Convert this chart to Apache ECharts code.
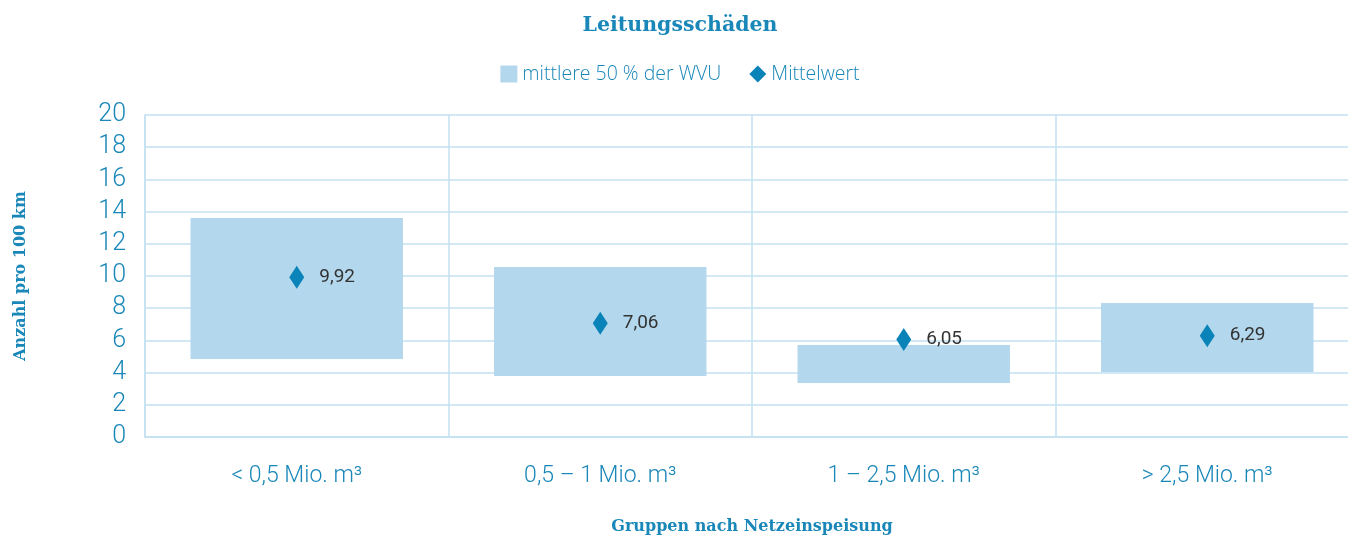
<!DOCTYPE html>
<html>
<head>
<meta charset="utf-8">
<script src="https://cdn.jsdelivr.net/npm/echarts@6/dist/echarts.min.js"></script>
<style>
html, body { margin: 0; padding: 0; background: #fff; overflow: hidden; }
#main { width: 1360px; height: 536px; }
</style>
</head>
<body>
<div id="main"></div>
<script>
var categories = ['< 0,5 Mio. m³', '0,5 – 1 Mio. m³', '1 – 2,5 Mio. m³', '> 2,5 Mio. m³'];
var lowerQuartile = [4.84, 3.79, 3.35, 4.04];
var upperQuartile = [13.6, 10.56, 5.71, 8.32];
var meanValues = [9.92, 7.06, 6.05, 6.29];

var blue = '#1a87b9';
var gridColor = '#c3e0f1';

// Spanne = oberes - unteres Quartil, fuer gestapelte Balken
var spread = upperQuartile.map(function (v, i) { return +(v - lowerQuartile[i]).toFixed(2); });

var myChart = echarts.init(document.getElementById('main'));
var option = {
    animation: false,
    title: {
        text: 'Leitungsschäden',
        left: 'center',
        top: 10,
        textStyle: {
            fontFamily: 'DejaVu Serif',
            fontWeight: 'bold',
            fontSize: 20.5,
            color: blue
        }
    },
    legend: {
        top: 59,
        left: 'center',
        itemGap: 28,
        itemWidth: 17,
        itemHeight: 17,
        textStyle: {
            fontFamily: 'Open Sans',
            fontWeight: 300,
            fontSize: 19.5,
            color: blue
        },
        data: [
            { name: 'mittlere 50 % der WVU', icon: 'rect' },
            { name: 'Mittelwert', icon: 'diamond' }
        ]
    },
    grid: {
        left: 145,
        right: 1,
        top: 115,
        bottom: 99,
        outerBoundsMode: 'none'
    },
    xAxis: {
        type: 'category',
        data: categories,
        boundaryGap: true,
        name: 'Gruppen nach Netzeinspeisung',
        nameLocation: 'middle',
        nameGap: 82,
        nameTextStyle: {
            fontFamily: 'DejaVu Serif',
            fontWeight: 'bold',
            fontSize: 16,
            color: blue
        },
        axisLine: { lineStyle: { color: gridColor, width: 1.5 } },
        axisTick: { show: false },
        splitLine: { show: true, lineStyle: { color: gridColor, width: 1.5 } },
        axisLabel: {
            margin: 28,
            fontFamily: 'Roboto',
            fontWeight: 300,
            fontSize: 23,
            color: blue
        }
    },
    yAxis: {
        type: 'value',
        min: 0,
        max: 20,
        interval: 2,
        name: 'Anzahl pro 100 km',
        nameLocation: 'middle',
        nameGap: 116,
        nameTextStyle: {
            fontFamily: 'DejaVu Serif',
            fontWeight: 'bold',
            fontSize: 16,
            color: blue
        },
        axisLine: { show: true, lineStyle: { color: gridColor, width: 1.5 } },
        axisTick: { show: false },
        splitLine: { lineStyle: { color: gridColor, width: 1.5 } },
        axisLabel: {
            margin: 19,
            fontFamily: 'Roboto',
            fontWeight: 300,
            fontSize: 25,
            color: blue
        }
    },
    series: [
        {
            name: 'basis',
            type: 'bar',
            stack: 'box',
            barWidth: '70%',
            itemStyle: { color: 'transparent' },
            silent: true,
            data: lowerQuartile
        },
        {
            name: 'mittlere 50 % der WVU',
            type: 'bar',
            stack: 'box',
            barWidth: '70%',
            itemStyle: { color: '#b3d7ec' },
            data: spread
        },
        {
            name: 'Mittelwert',
            type: 'scatter',
            symbol: 'diamond',
            symbolSize: [15, 23],
            itemStyle: { color: '#0a83b8', opacity: 1 },
            z: 5,
            label: {
                show: true,
                position: 'right',
                distance: 15,
                fontFamily: 'Roboto',
                fontSize: 19,
                color: '#333',
                formatter: function (p) { return String(p.value).replace('.', ','); }
            },
            data: meanValues
        }
    ]
};
myChart.setOption(option);
</script>
</body>
</html>
